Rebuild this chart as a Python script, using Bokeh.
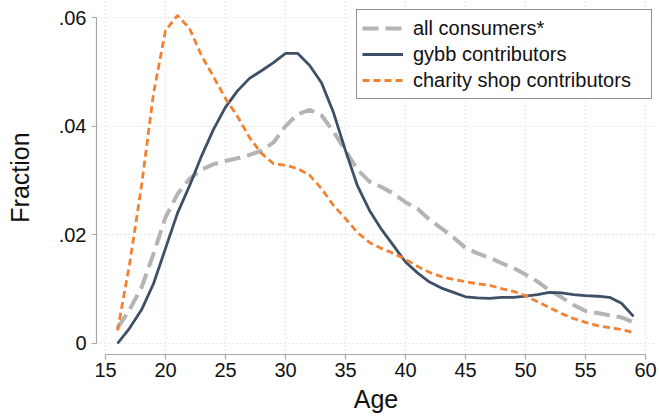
from bokeh.plotting import figure
from bokeh.models import Range1d, FixedTicker, CustomJSTickFormatter, Legend, LegendItem
from bokeh.embed import file_html
from bokeh.resources import INLINE

ages = list(range(16, 60))

all_consumers = [0.0028, 0.0062, 0.0103, 0.0165, 0.0232, 0.0275, 0.0303, 0.0320, 0.0330, 0.0336,
                 0.0341, 0.0347, 0.0355, 0.0370, 0.0400, 0.0422, 0.0430, 0.0420, 0.0390, 0.0355,
                 0.0320, 0.0298, 0.0288, 0.0276, 0.0260, 0.0248, 0.0228, 0.0212, 0.0195, 0.0176,
                 0.0166, 0.0158, 0.0148, 0.0139, 0.0127, 0.0114, 0.0098, 0.0085, 0.0071, 0.0060,
                 0.0056, 0.0052, 0.0048, 0.0039]

gybb = [0.0000, 0.0028, 0.0062, 0.0110, 0.0175, 0.0240, 0.0290, 0.0345, 0.0394, 0.0435,
        0.0465, 0.0488, 0.0502, 0.0517, 0.0534, 0.0534, 0.0512, 0.0480, 0.0425, 0.0355,
        0.0290, 0.0245, 0.0210, 0.0180, 0.0150, 0.0130, 0.0113, 0.0102, 0.0094, 0.0086,
        0.0084, 0.0083, 0.0085, 0.0085, 0.0087, 0.0090, 0.0094, 0.0093, 0.0090, 0.0088,
        0.0087, 0.0085, 0.0074, 0.0050]

charity = [0.0024, 0.0145, 0.0290, 0.0460, 0.0576, 0.0604, 0.0580, 0.0530, 0.0491, 0.0451,
           0.0418, 0.0379, 0.0350, 0.0331, 0.0328, 0.0322, 0.0310, 0.0285, 0.0254, 0.0230,
           0.0204, 0.0186, 0.0175, 0.0166, 0.0155, 0.0142, 0.0131, 0.0123, 0.0118, 0.0114,
           0.0110, 0.0107, 0.0101, 0.0096, 0.0088, 0.0077, 0.0066, 0.0055, 0.0046, 0.0039,
           0.0033, 0.0029, 0.0026, 0.0020]

x_ticks = [15, 20, 25, 30, 35, 40, 45, 50, 55, 60]
y_ticks = [0, 0.02, 0.04, 0.06]

FONT = "Liberation Sans"

p = figure(width=659, height=419, output_backend="svg", toolbar_location=None,
           x_range=Range1d(14.25, 60.833), y_range=Range1d(-0.002025, 0.06313),
           min_border_left=96, min_border_right=4, min_border_top=0, min_border_bottom=65)
p.outline_line_color = None
p.background_fill_color = "white"
p.border_fill_color = "white"

r_all = p.line(ages, all_consumers, line_color="#b4b4b4", line_width=4, line_dash="16 7")
r_gybb = p.line(ages, gybb, line_color="#3f4f66", line_width=2.8)
r_char = p.line(ages, charity, line_color="#f28131", line_width=2.8, line_dash="7 4")

for ax in (p.xaxis[0], p.yaxis[0]):
    ax.axis_line_color = "#a8a8a8"
    ax.axis_line_width = 1.2
    ax.major_tick_line_color = "#a8a8a8"
    ax.major_tick_line_width = 1.2
    ax.major_tick_out = 5
    ax.major_tick_in = 0
    ax.minor_tick_line_color = None
    ax.major_label_text_font = FONT
    ax.major_label_text_font_size = "20px"
    ax.major_label_text_color = "#111111"
    ax.axis_label_text_font = FONT
    ax.axis_label_text_font_size = "25px"
    ax.axis_label_text_font_style = "normal"
    ax.axis_label_text_color = "#111111"

p.xaxis.ticker = FixedTicker(ticks=x_ticks)
p.yaxis.ticker = FixedTicker(ticks=y_ticks)
p.xaxis.bounds = (15, 60)
p.yaxis.bounds = (0, 0.06)
p.xaxis.axis_label = "Age"
p.yaxis.axis_label = "Fraction"
p.xaxis.major_label_standoff = 3
p.xaxis.axis_label_standoff = 5
p.yaxis.major_label_standoff = 5
p.yaxis.axis_label_standoff = 22
p.yaxis.major_label_orientation = "horizontal"
p.yaxis.formatter = CustomJSTickFormatter(
    code="if (Math.abs(tick) < 1e-12) { return '0'; } return tick.toFixed(2).replace(/^0/, '');")

for g in (p.xgrid[0], p.ygrid[0]):
    g.grid_line_color = "#cfcfcf"
    g.grid_line_width = 1
    g.grid_line_dash = "1 3"
p.xgrid.ticker = FixedTicker(ticks=x_ticks)
p.ygrid.ticker = FixedTicker(ticks=y_ticks)

legend = Legend(items=[
    LegendItem(label="all consumers*", renderers=[r_all]),
    LegendItem(label="gybb contributors", renderers=[r_gybb]),
    LegendItem(label="charity shop contributors", renderers=[r_char]),
], location=(260, 255))
legend.margin = 0
legend.padding = 5
legend.spacing = 0
legend.glyph_width = 41
legend.glyph_height = 26
legend.label_height = 26
legend.label_width = 233
legend.label_standoff = 10
legend.label_text_font = FONT
legend.label_text_font_size = "20px"
legend.label_text_color = "#111111"
legend.border_line_color = "#222222"
legend.border_line_width = 1.2
legend.background_fill_color = "white"
legend.background_fill_alpha = 1
p.add_layout(legend)

open("out.html", "w").write(file_html(p, INLINE))
